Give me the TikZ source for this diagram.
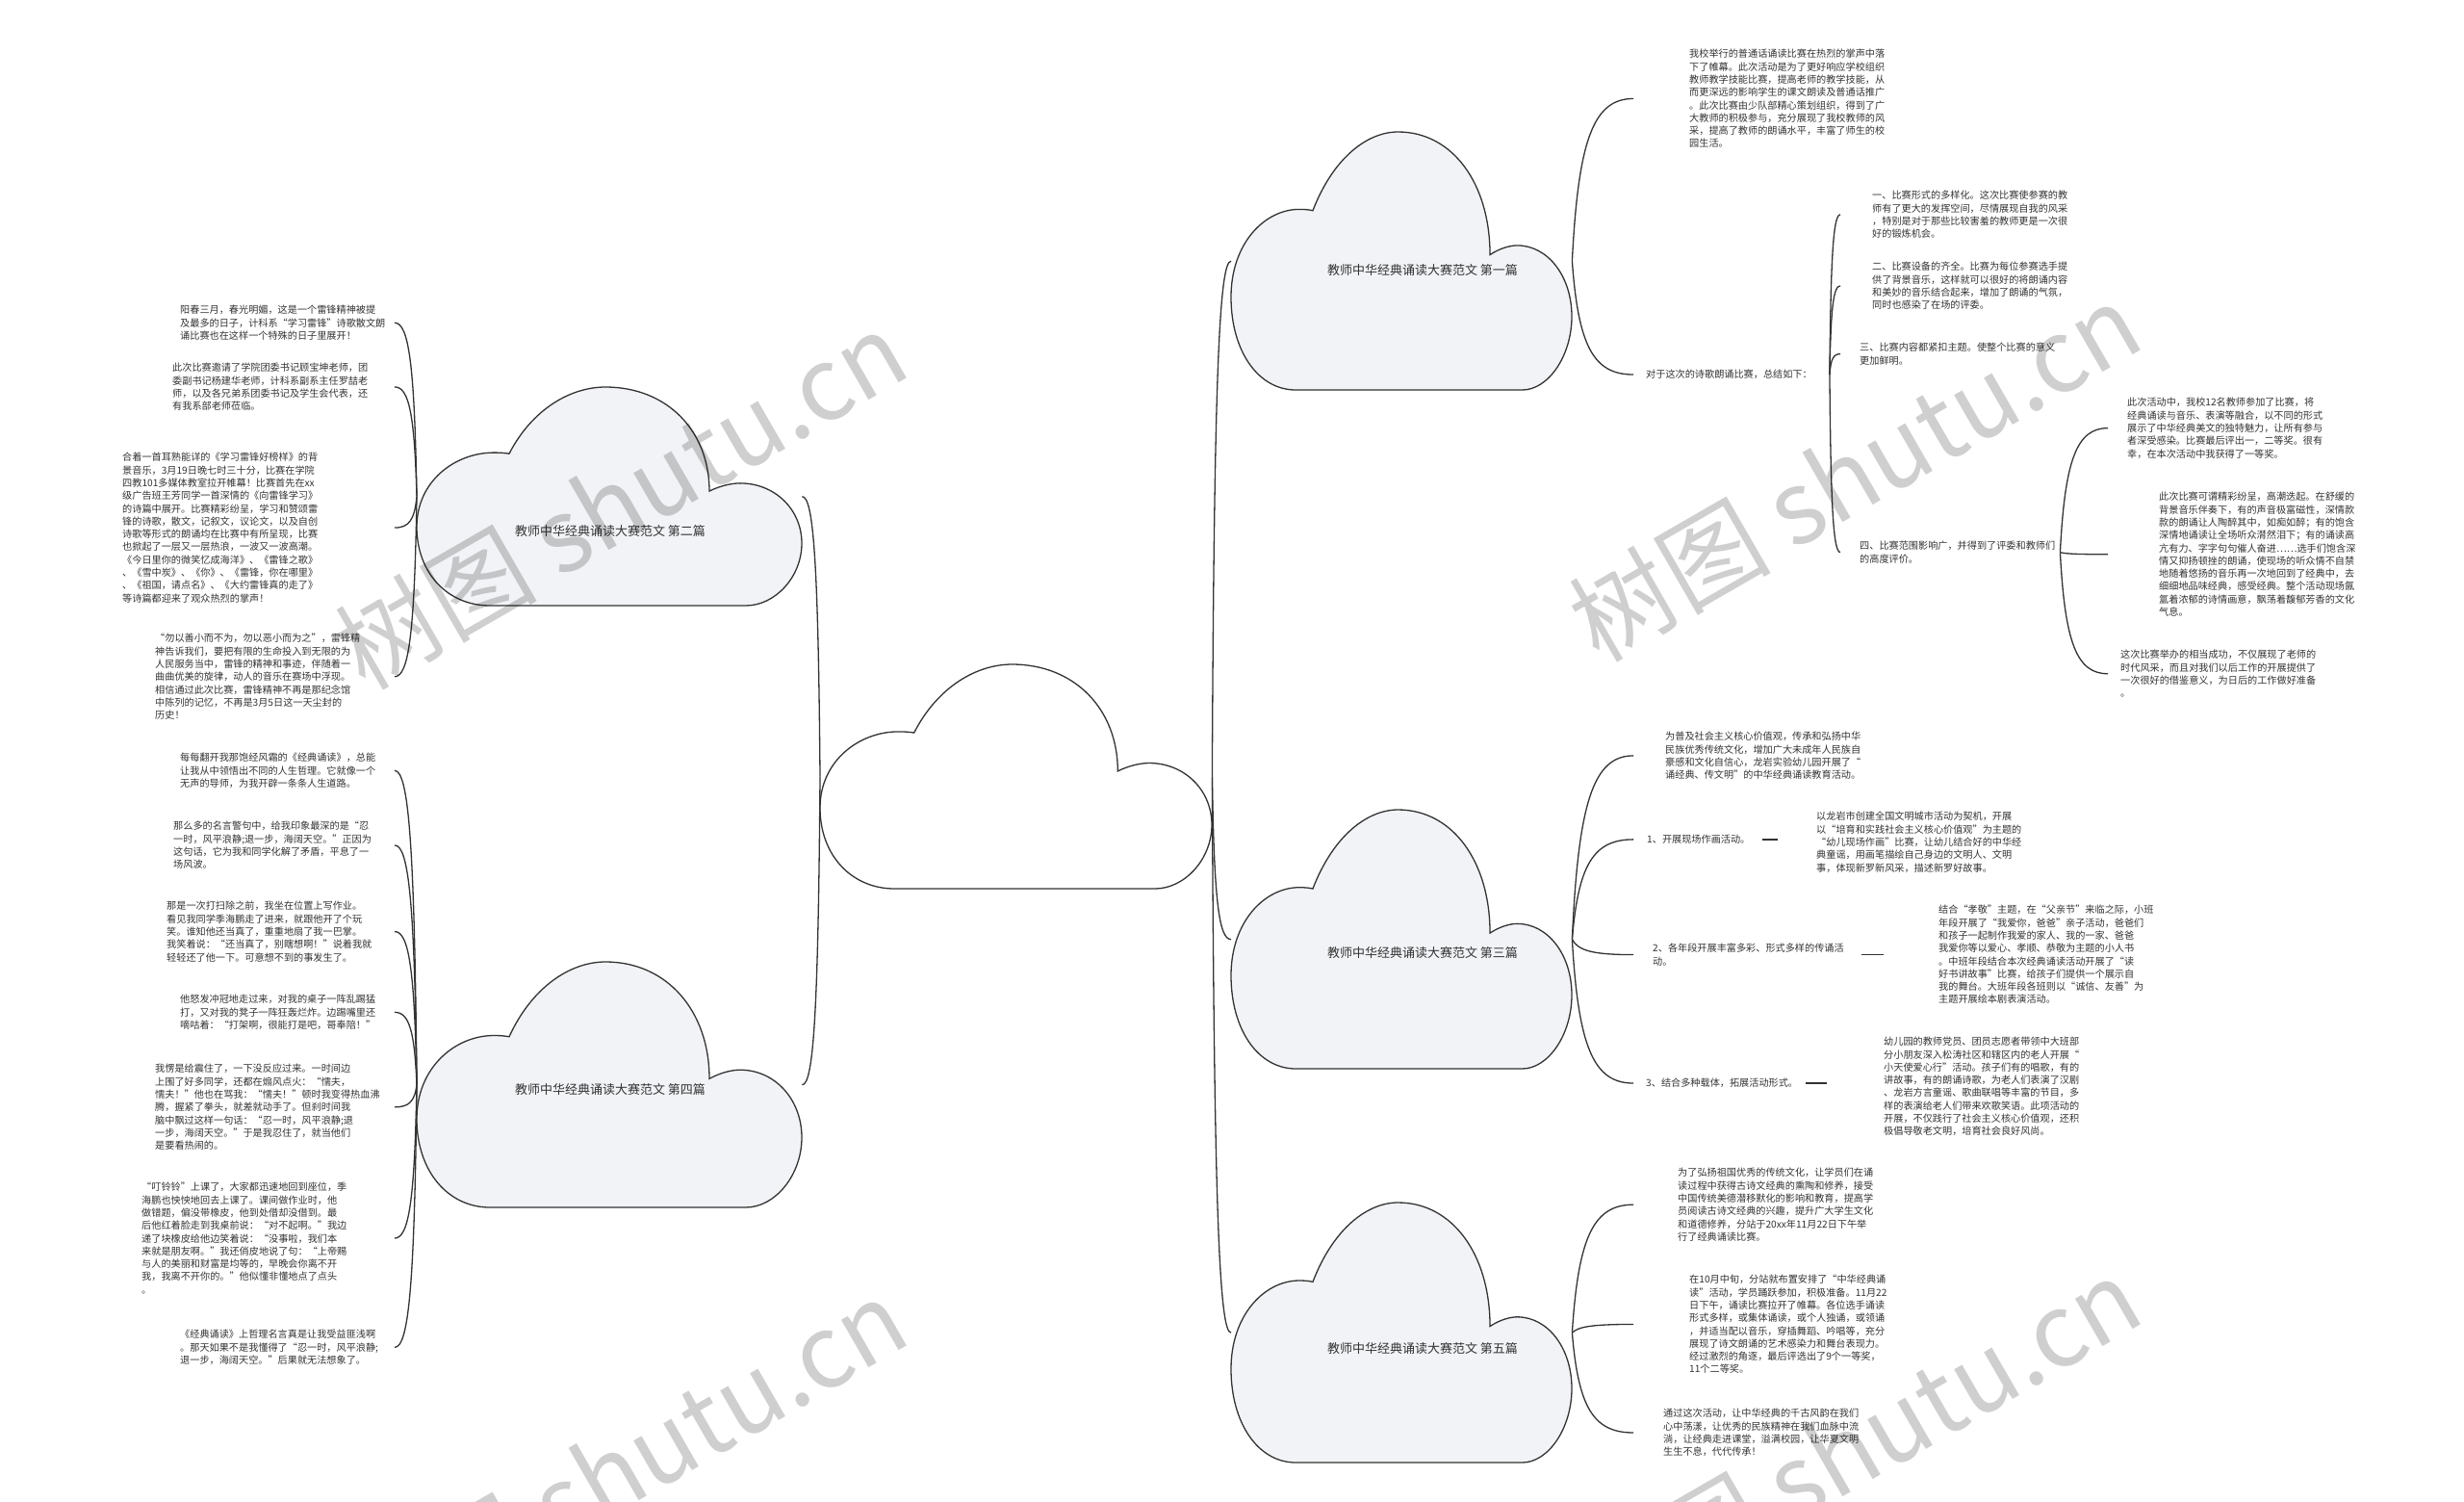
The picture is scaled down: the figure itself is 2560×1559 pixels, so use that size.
\documentclass[tikz,border=0pt]{standalone}
\usepackage{fontspec}
\setmainfont{Noto Sans CJK SC}
\usetikzlibrary{calc}
\definecolor{linec}{HTML}{333333}
\definecolor{txtc}{HTML}{333333}
\definecolor{cloudfill}{HTML}{F1F3F6}
\tikzset{
  conn/.style={draw=linec, line width=1.3},
  txt/.style={anchor=north west, inner sep=0, align=left, text=txtc, font=\fontsize{10.15}{13.3}\selectfont},
  cloudline/.style={draw=linec, line width=1.3},
  cloudbox/.style={inner sep=0, draw=none, anchor=north west},
  cloudlabel/.style={text=txtc, font=\fontsize{13}{15}\selectfont, inner sep=0},
  wm/.style={text=black, opacity=0.19, font=\fontsize{105}{110}\selectfont, rotate=30, inner sep=0}
}
\newcommand\mycloud[6]{%
  \begin{scope}[shift={(#2,#3)},xscale=#4,yscale=#5]
    \draw[cloudline,fill=#6] (0.19,1) .. controls (0.08,1) and (0,0.85) .. (0,0.64)
      .. controls (0,0.43) and (0.1,0.30) .. (0.2,0.30)
      .. controls (0.22,0.30) and (0.23,0.302) .. (0.24,0.305)
      .. controls (0.30,0.10) and (0.40,0) .. (0.49,0)
      .. controls (0.65,0) and (0.76,0.2) .. (0.76,0.476)
      .. controls (0.79,0.45) and (0.82,0.44) .. (0.84,0.44)
      .. controls (0.93,0.44) and (1,0.56) .. (1,0.715)
      .. controls (1,0.87) and (0.93,1) .. (0.855,1) -- cycle;
  \end{scope}
  \node[cloudbox, minimum width=#4, minimum height=#5] (#1) at (#2,#3) {};
}
\newcommand\link[2]{\draw[conn] let \p1=#1, \p2=#2 in (\p1) .. controls ({\x1+0.1*(\x2-\x1)},{\y1+0.75*(\y2-\y1)}) and ({\x1+0.35*(\x2-\x1)},{\y2}) .. (\p2);}
\begin{document}
\begin{tikzpicture}[x=1pt,y=-1pt]
\useasboundingbox (0,0) rectangle (2560,1559);
\fill[white] (0,0) rectangle (2560,1559);
% guide coordinates
\coordinate (gL) at (410,0);
\coordinate (g1) at (1697,0);
\coordinate (g2) at (1912,0);
\coordinate (g3) at (2190,0);
% clouds
\mycloud{c0}{852}{690}{407}{233}{white}
\mycloud{c1}{1279}{137}{354}{268}{cloudfill}
\mycloud{c2}{433}{402}{400}{227}{cloudfill}
\mycloud{c3}{1279}{841}{354}{269}{cloudfill}
\mycloud{c4}{433}{999}{400}{255}{cloudfill}
\mycloud{c5}{1279}{1249}{354}{270}{cloudfill}
\node[cloudlabel] (l1) at (1478,281) {教师中华经典诵读大赛范文 第一篇};
\node[cloudlabel] (l2) at (634,552) {教师中华经典诵读大赛范文 第二篇};
\node[cloudlabel] (l3) at (1478,990) {教师中华经典诵读大赛范文 第三篇};
\node[cloudlabel] (l4) at (634,1132) {教师中华经典诵读大赛范文 第四篇};
\node[cloudlabel] (l5) at (1478,1401) {教师中华经典诵读大赛范文 第五篇};
% ---------- first article
\node[txt] (t1) at (1755,51) {我校举行的普通话诵读比赛在热烈的掌声中落\\下了帷幕。此次活动是为了更好响应学校组织\\教师教学技能比赛，提高老师的教学技能，从\\而更深远的影响学生的课文朗读及普通话推广\\。此次比赛由少队部精心策划组织，得到了广\\大教师的积极参与，充分展现了我校教师的风\\采，提高了教师的朗诵水平，丰富了师生的校\\园生活。};
\node[txt] (h1) at (1710,384) {对于这次的诗歌朗诵比赛，总结如下：};
\node[txt] (i1) at (1945,198) {一、比赛形式的多样化。这次比赛使参赛的教\\师有了更大的发挥空间，尽情展现自我的风采\\，特别是对于那些比较害羞的教师更是一次很\\好的锻炼机会。};
\node[txt] (i2) at (1945,272) {二、比赛设备的齐全。比赛为每位参赛选手提\\供了背景音乐，这样就可以很好的将朗诵内容\\和美妙的音乐结合起来，增加了朗诵的气氛，\\同时也感染了在场的评委。};
\node[txt] (i3) at (1932,356) {三、比赛内容都紧扣主题。使整个比赛的意义\\更加鲜明。};
\node[txt] (i4) at (1932,562) {四、比赛范围影响广，并得到了评委和教师们\\的高度评价。};
\node[txt] (a1) at (2210,413) {此次活动中，我校12名教师参加了比赛，将\\经典诵读与音乐、表演等融合，以不同的形式\\展示了中华经典美文的独特魅力，让所有参与\\者深受感染。比赛最后评出一，二等奖。很有\\幸，在本次活动中我获得了一等奖。};
\node[txt] (a2) at (2243,511) {此次比赛可谓精彩纷呈，高潮迭起。在舒缓的\\背景音乐伴奏下，有的声音极富磁性，深情款\\款的朗诵让人陶醉其中，如痴如醉；有的饱含\\深情地诵读让全场听众潸然泪下；有的诵读高\\亢有力、字字句句催人奋进……选手们饱含深\\情又抑扬顿挫的朗诵，使现场的听众情不自禁\\地随着悠扬的音乐再一次地回到了经典中，去\\细细地品味经典，感受经典。整个活动现场氤\\氲着浓郁的诗情画意，飘荡着馥郁芳香的文化\\气息。};
\node[txt] (a3) at (2203,675) {这次比赛举办的相当成功，不仅展现了老师的\\时代风采，而且对我们以后工作的开展提供了\\一次很好的借鉴意义，为日后的工作做好准备\\。};
% ---------- third article
\node[txt] (p1) at (1730,760) {为普及社会主义核心价值观，传承和弘扬中华\\民族优秀传统文化，增加广大未成年人民族自\\豪感和文化自信心，龙岩实验幼儿园开展了“\\诵经典、传文明”的中华经典诵读教育活动。};
\node[txt] (p2) at (1711,867) {1、开展现场作画活动。};
\node[txt] (p2a) at (1887,843) {以龙岩市创建全国文明城市活动为契机，开展\\以“培育和实践社会主义核心价值观”为主题的\\“幼儿现场作画”比赛，让幼儿结合好的中华经\\典童谣，用画笔描绘自己身边的文明人、文明\\事，体现新罗新风采，描述新罗好故事。};
\node[txt] (p3) at (1717,980) {2、各年段开展丰富多彩、形式多样的传诵活\\动。};
\node[txt] (p3a) at (2014,940) {结合“孝敬”主题，在“父亲节”来临之际，小班\\年段开展了“我爱你，爸爸”亲子活动，爸爸们\\和孩子一起制作我爱的家人、我的一家、爸爸\\我爱你等以爱心、孝顺、恭敬为主题的小人书\\。中班年段结合本次经典诵读活动开展了“读\\好书讲故事”比赛，给孩子们提供一个展示自\\我的舞台。大班年段各班则以“诚信、友善”为\\主题开展绘本剧表演活动。};
\node[txt] (p4) at (1710,1120) {3、结合多种载体，拓展活动形式。};
\node[txt] (p4a) at (1957,1077) {幼儿园的教师党员、团员志愿者带领中大班部\\分小朋友深入松涛社区和辖区内的老人开展“\\小天使爱心行”活动。孩子们有的唱歌，有的\\讲故事，有的朗诵诗歌，为老人们表演了汉剧\\、龙岩方言童谣、歌曲联唱等丰富的节目，多\\样的表演给老人们带来欢歌笑语。此项活动的\\开展，不仅践行了社会主义核心价值观，还积\\极倡导敬老文明，培育社会良好风尚。};
% ---------- fifth article
\node[txt] (q1) at (1743,1213) {为了弘扬祖国优秀的传统文化，让学员们在诵\\读过程中获得古诗文经典的熏陶和修养，接受\\中国传统美德潜移默化的影响和教育，提高学\\员阅读古诗文经典的兴趣，提升广大学生文化\\和道德修养，分站于20xx年11月22日下午举\\行了经典诵读比赛。};
\node[txt] (q2) at (1755,1324) {在10月中旬，分站就布置安排了“中华经典诵\\读”活动，学员踊跃参加，积极准备。11月22\\日下午，诵读比赛拉开了帷幕。各位选手诵读\\形式多样，或集体诵读，或个人独诵，或领诵\\，并适当配以音乐，穿插舞蹈、吟唱等，充分\\展现了诗文朗诵的艺术感染力和舞台表现力。\\经过激烈的角逐，最后评选出了9个一等奖，\\11个二等奖。};
\node[txt] (q3) at (1728,1463) {通过这次活动，让中华经典的千古风韵在我们\\心中荡漾，让优秀的民族精神在我们血脉中流\\淌，让经典走进课堂，溢满校园，让华夏文明\\生生不息，代代传承！};
% ---------- second article (left)
\node[txt] (L1) at (187,317) {阳春三月，春光明媚，这是一个雷锋精神被提\\及最多的日子，计科系“学习雷锋”诗歌散文朗\\诵比赛也在这样一个特殊的日子里展开！};
\node[txt] (L2) at (179,377) {此次比赛邀请了学院团委书记顾宝坤老师，团\\委副书记杨建华老师，计科系副系主任罗喆老\\师，以及各兄弟系团委书记及学生会代表，还\\有我系部老师莅临。};
\node[txt] (L3) at (127,470) {合着一首耳熟能详的《学习雷锋好榜样》的背\\景音乐，3月19日晚七时三十分，比赛在学院\\四教101多媒体教室拉开帷幕！比赛首先在xx\\级广告班王芳同学一首深情的《向雷锋学习》\\的诗篇中展开。比赛精彩纷呈，学习和赞颂雷\\锋的诗歌，散文，记叙文，议论文，以及自创\\诗歌等形式的朗诵均在比赛中有所呈现，比赛\\也掀起了一层又一层热浪，一波又一波高潮。\\《今日里你的微笑忆成海洋》、《雷锋之歌》\\、《雪中炭》、《你》、《雷锋，你在哪里》\\、《祖国，请点名》、《大约雷锋真的走了》\\等诗篇都迎来了观众热烈的掌声！};
\node[txt] (L4) at (161,658) {“勿以善小而不为，勿以恶小而为之”，雷锋精\\神告诉我们，要把有限的生命投入到无限的为\\人民服务当中，雷锋的精神和事迹，伴随着一\\曲曲优美的旋律，动人的音乐在赛场中浮现。\\相信通过此次比赛，雷锋精神不再是那纪念馆\\中陈列的记忆，不再是3月5日这一天尘封的\\历史！};
% ---------- fourth article (left)
\node[txt] (L5) at (187,782) {每每翻开我那饱经风霜的《经典诵读》，总能\\让我从中领悟出不同的人生哲理。它就像一个\\无声的导师，为我开辟一条条人生道路。};
\node[txt] (L6) at (180,853) {那么多的名言警句中，给我印象最深的是“忍\\一时，风平浪静;退一步，海阔天空。”正因为\\这句话，它为我和同学化解了矛盾，平息了一\\场风波。};
\node[txt] (L7) at (173,936) {那是一次打扫除之前，我坐在位置上写作业。\\看见我同学季海鹏走了进来，就跟他开了个玩\\笑。谁知他还当真了，重重地扇了我一巴掌。\\我笑着说：“还当真了，别瞎想啊！”说着我就\\轻轻还了他一下。可意想不到的事发生了。};
\node[txt] (L8) at (187,1033) {他怒发冲冠地走过来，对我的桌子一阵乱踢猛\\打，又对我的凳子一阵狂轰烂炸。边踢嘴里还\\嘀咕着：“打架啊，很能打是吧，哥奉陪！”};
\node[txt] (L9) at (161,1105) {我愣是给震住了，一下没反应过来。一时间边\\上围了好多同学，还都在煽风点火：“懦夫，\\懦夫！”他也在骂我：“懦夫！”顿时我变得热血沸\\腾，握紧了拳头，就差就动手了。但刹时间我\\脑中飘过这样一句话：“忍一时，风平浪静;退\\一步，海阔天空。”于是我忍住了，就当他们\\是要看热闹的。};
\node[txt] (L10) at (147,1228) {“叮铃铃”上课了，大家都迅速地回到座位，季\\海鹏也怏怏地回去上课了。课间做作业时，他\\做错题，偏没带橡皮，他到处借却没借到。最\\后他红着脸走到我桌前说：“对不起啊。”我边\\递了块橡皮给他边笑着说：“没事啦，我们本\\来就是朋友啊。”我还俏皮地说了句：“上帝赐\\与人的美丽和财富是均等的，早晚会你离不开\\我，我离不开你的。”他似懂非懂地点了点头\\。};
\node[txt] (L11) at (187,1381) {《经典诵读》上哲理名言真是让我受益匪浅啊\\。那天如果不是我懂得了“忍一时，风平浪静;\\退一步，海阔天空。”后果就无法想象了。};
% ---------- connectors
\link{(c0.west)}{(c2.east)}
\link{(c0.west)}{(c4.east)}
\link{(c0.east)}{(c1.west)}
\link{(c0.east)}{(c3.west)}
\link{(c0.east)}{(c5.west)}
\link{(c1.east)}{(g1 |- t1.west)}
\link{(c1.east)}{(g1 |- h1.west)}
\link{([xshift=18]h1.east)}{(g2 |- i1.west)}
\link{([xshift=18]h1.east)}{(g2 |- i2.west)}
\link{([xshift=18]h1.east)}{(g2 |- i3.west)}
\link{([xshift=18]h1.east)}{(g2 |- i4.west)}
\link{([xshift=5]i4.east)}{(g3 |- a1.west)}
\link{([xshift=5]i4.east)}{(g3 |- a2.west)}
\link{([xshift=5]i4.east)}{(g3 |- a3.west)}
\link{(c3.east)}{(g1 |- p1.west)}
\link{(c3.east)}{(g1 |- p2.west)}
\link{(c3.east)}{(g1 |- p3.west)}
\link{(c3.east)}{(g1 |- p4.west)}
\draw[conn] ([xshift=12]p2.east) -- ($(p2a.west |- p2.east)+(-40,0)$);
\draw[conn] ([xshift=18]p3.east) -- ($(p3a.west |- p3.east)+(-57,0)$);
\draw[conn] ([xshift=8]p4.east) -- ($(p4a.west |- p4.east)+(-59,0)$);
\link{(c5.east)}{(g1 |- q1.west)}
\link{(c5.east)}{(g1 |- q2.west)}
\link{(c5.east)}{(g1 |- q3.west)}
\foreach \k in {1,2,3,4} {\link{(c2.west)}{(gL |- L\k.east)}}
\foreach \k in {5,6,7,8,9,10,11} {\link{(c4.west)}{(gL |- L\k.east)}}
% ---------- watermarks
\node[wm] (wm1) at (645,519) {树图 shutu.cn};
\node[wm] (wm2) at (1927,490) {树图 shutu.cn};
\node[wm] (wm3) at (645,1524) {树图 shutu.cn};
\node[wm] (wm4) at (1927,1502) {树图 shutu.cn};
\end{tikzpicture}
\end{document}
